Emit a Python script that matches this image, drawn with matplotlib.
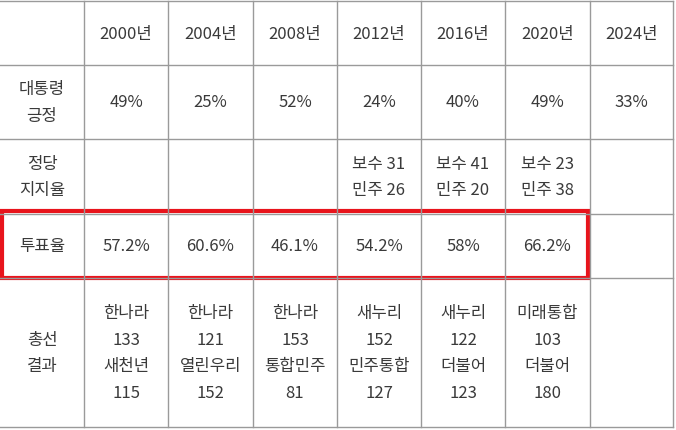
import matplotlib
matplotlib.use("Agg")
import matplotlib.pyplot as plt
from matplotlib.patches import Rectangle

plt.rcParams['font.family'] = ['Noto Sans CJK KR', 'DejaVu Sans']

years = ["2000년", "2004년", "2008년", "2012년", "2016년", "2020년", "2024년"]
row_labels = ["대통령\n긍정", "정당\n지지율", "투표율", "총선\n결과"]
approval = ["49%", "25%", "52%", "24%", "40%", "49%", "33%"]
party_support = ["", "", "", "보수 31\n민주 26", "보수 41\n민주 20", "보수 23\n민주 38", ""]
turnout = ["57.2%", "60.6%", "46.1%", "54.2%", "58%", "66.2%", ""]
results = ["한나라\n133\n새천년\n115", "한나라\n121\n열린우리\n152", "한나라\n153\n통합민주\n81",
           "새누리\n152\n민주통합\n127", "새누리\n122\n더불어\n123", "미래통합\n103\n더불어\n180", ""]

W, H = 676, 431
fig = plt.figure(figsize=(W/100, H/100), dpi=100)
ax = fig.add_axes([0, 0, 1, 1])
ax.set_xlim(0, W); ax.set_ylim(H, 0); ax.axis('off')

xs = [0, 84, 168, 253, 337, 421, 505, 590, 673]
ys = [2, 66, 140, 215, 279, 428]
lc = '#9a9a9a'
for x in xs[1:]:
    ax.plot([x, x], [ys[0], ys[-1]], color=lc, lw=1)
for y in ys:
    ax.plot([0, xs[-1]], [y, y], color=lc, lw=1)

tc = '#3a3a3a'
kw = dict(ha='center', va='center', color=tc, fontsize=12, fontweight='light')
def cx(i): return (xs[i] + xs[i+1]) / 2
def cy(j): return (ys[j] + ys[j+1]) / 2

for i, y in enumerate(years):
    ax.text(cx(i+1), cy(0), y, **kw)
for j, lab in enumerate(row_labels):
    ax.text(cx(0), cy(j+1), lab, linespacing=1.75, **kw)
for j, row in enumerate([approval, party_support, turnout, results]):
    for i, v in enumerate(row):
        if v:
            ax.text(cx(i+1), cy(j+1), v, linespacing=1.75, **kw)

ax.add_patch(Rectangle((2, 212), 586, 67, fill=False, edgecolor='#e8141c', lw=3))

fig.savefig("out.png", dpi=100)
